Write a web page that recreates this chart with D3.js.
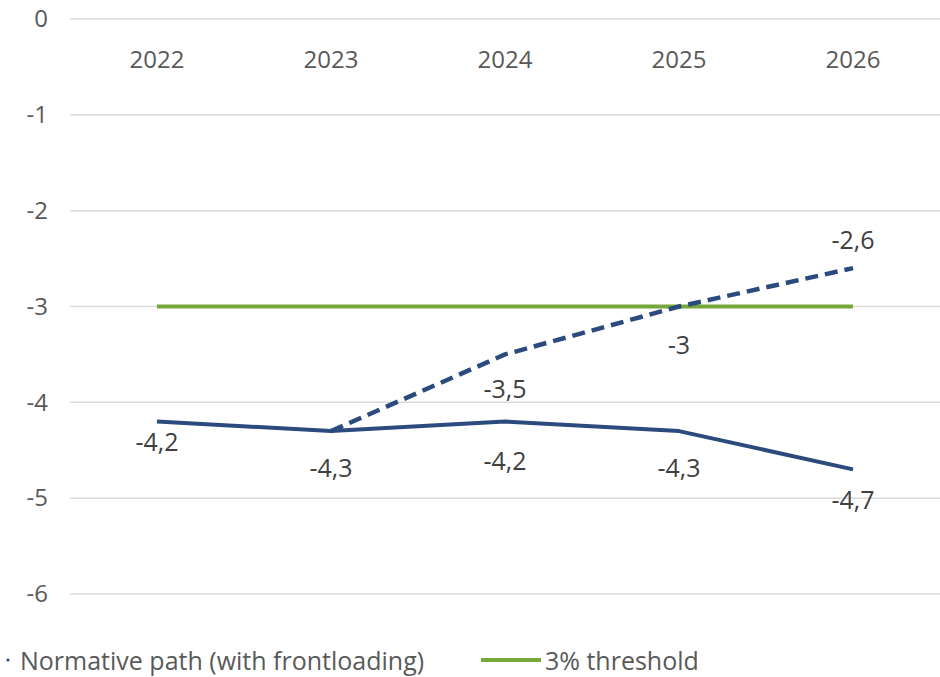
<!DOCTYPE html>
<html>
<head>
<meta charset="utf-8">
<script src="https://cdn.jsdelivr.net/npm/d3@7"></script>
<style>
  html, body { margin: 0; padding: 0; background: #fff; }
  svg { display: block; font-family: "Open Sans", "Noto Sans", sans-serif; }
</style>
</head>
<body>
<svg id="chart" width="940" height="677"></svg>
<script>
// Budget balance paths, % of GDP
const years = ["2022", "2023", "2024", "2025", "2026"];
const baseline = [-4.2, -4.3, -4.2, -4.3, -4.7];
const normative = [null, -4.3, -3.5, -3.0, -2.6];
const threshold = [-3, -3, -3, -3, -3];
const yTicks = [0, -1, -2, -3, -4, -5, -6];
const legendLabels = ["Normative path (with frontloading)", "3% threshold"];

// Label offsets (px, relative to the point) for each series
const baselineLabelDy = [19, 36, 38, 36, 30];
const normativeLabelDy = [null, null, 34, 37, -29];

const navy = "#2B4A7E";
const green = "#76A83A";
const grid = "#d9d9d9";
const axisText = "#595959";
const labelText = "#404040";
const fontSize = "24px";
const labelSize = "25px";

const svg = d3.select("#chart");
const plotLeft = 70, plotRight = 940;
const x = d3.scaleBand().domain(years).range([plotLeft, plotRight]);
const y = d3.scaleLinear().domain([0, -6]).range([19, 594]);
const cx = d => x(d) + x.bandwidth() / 2;

// Horizontal gridlines
svg.append("g").selectAll("line").data(yTicks).join("line")
  .attr("x1", plotLeft).attr("x2", plotRight)
  .attr("y1", d => y(d)).attr("y2", d => y(d))
  .attr("stroke", grid).attr("stroke-width", 1.5);

// Y axis labels
const yAxis = d3.axisLeft(y).tickValues(yTicks).tickSize(0).tickPadding(0)
  .tickFormat(d => d === 0 ? "0" : "-" + Math.abs(d));
const gy = svg.append("g").attr("transform", "translate(48,0)").call(yAxis);
gy.select(".domain").remove();
gy.selectAll("text").attr("fill", axisText).style("font-size", fontSize)
  .style("font-family", "'Open Sans', sans-serif");

// Year labels along the top
const xAxis = d3.axisTop(x).tickSize(0).tickPadding(0);
const gx = svg.append("g").attr("transform", "translate(0,68)").call(xAxis);
gx.select(".domain").remove();
gx.selectAll("text").attr("fill", axisText).style("font-size", fontSize)
  .style("font-family", "'Open Sans', sans-serif");

const line = d3.line()
  .defined(d => d.v !== null)
  .x(d => cx(d.year)).y(d => y(d.v));
const toPts = arr => arr.map((v, i) => ({ year: years[i], v }));

// 3% threshold
svg.append("path").datum(toPts(threshold))
  .attr("d", line).attr("fill", "none")
  .attr("stroke", green).attr("stroke-width", 4);

// Normative path (dashed)
svg.append("path").datum(toPts(normative))
  .attr("d", line).attr("fill", "none")
  .attr("stroke", navy).attr("stroke-width", 4.5)
  .attr("stroke-dasharray", "13,7");

// Baseline path (solid)
svg.append("path").datum(toPts(baseline))
  .attr("d", line).attr("fill", "none")
  .attr("stroke", navy).attr("stroke-width", 4)
  .attr("stroke-linejoin", "round");

const fmt = v => String(v).replace(".", ",");

// Data labels
svg.append("g").selectAll("text").data(toPts(baseline)).join("text")
  .attr("x", d => cx(d.year))
  .attr("y", (d, i) => y(d.v) + baselineLabelDy[i])
  .attr("text-anchor", "middle").attr("dominant-baseline", "central")
  .attr("fill", labelText).style("font-size", labelSize)
  .text(d => fmt(d.v));

svg.append("g").selectAll("text")
  .data(toPts(normative).map((d, i) => ({ ...d, dy: normativeLabelDy[i] }))
    .filter(d => d.dy !== null))
  .join("text")
  .attr("x", d => cx(d.year))
  .attr("y", d => y(d.v) + d.dy)
  .attr("text-anchor", "middle").attr("dominant-baseline", "central")
  .attr("fill", labelText).style("font-size", labelSize)
  .text(d => fmt(d.v));

// Legend
const lg = svg.append("g").attr("transform", "translate(0,660)");
lg.append("circle").attr("cx", 8).attr("cy", 0).attr("r", 1.6).attr("fill", navy);
lg.append("text").attr("x", 20).attr("y", 0).attr("dominant-baseline", "central")
  .attr("fill", axisText).style("font-size", labelSize).text(legendLabels[0]);
lg.append("line").attr("x1", 481).attr("x2", 541).attr("y1", 0).attr("y2", 0)
  .attr("stroke", green).attr("stroke-width", 4);
lg.append("text").attr("x", 545).attr("y", 0).attr("dominant-baseline", "central")
  .attr("fill", axisText).style("font-size", labelSize).text(legendLabels[1]);
</script>
</body>
</html>
